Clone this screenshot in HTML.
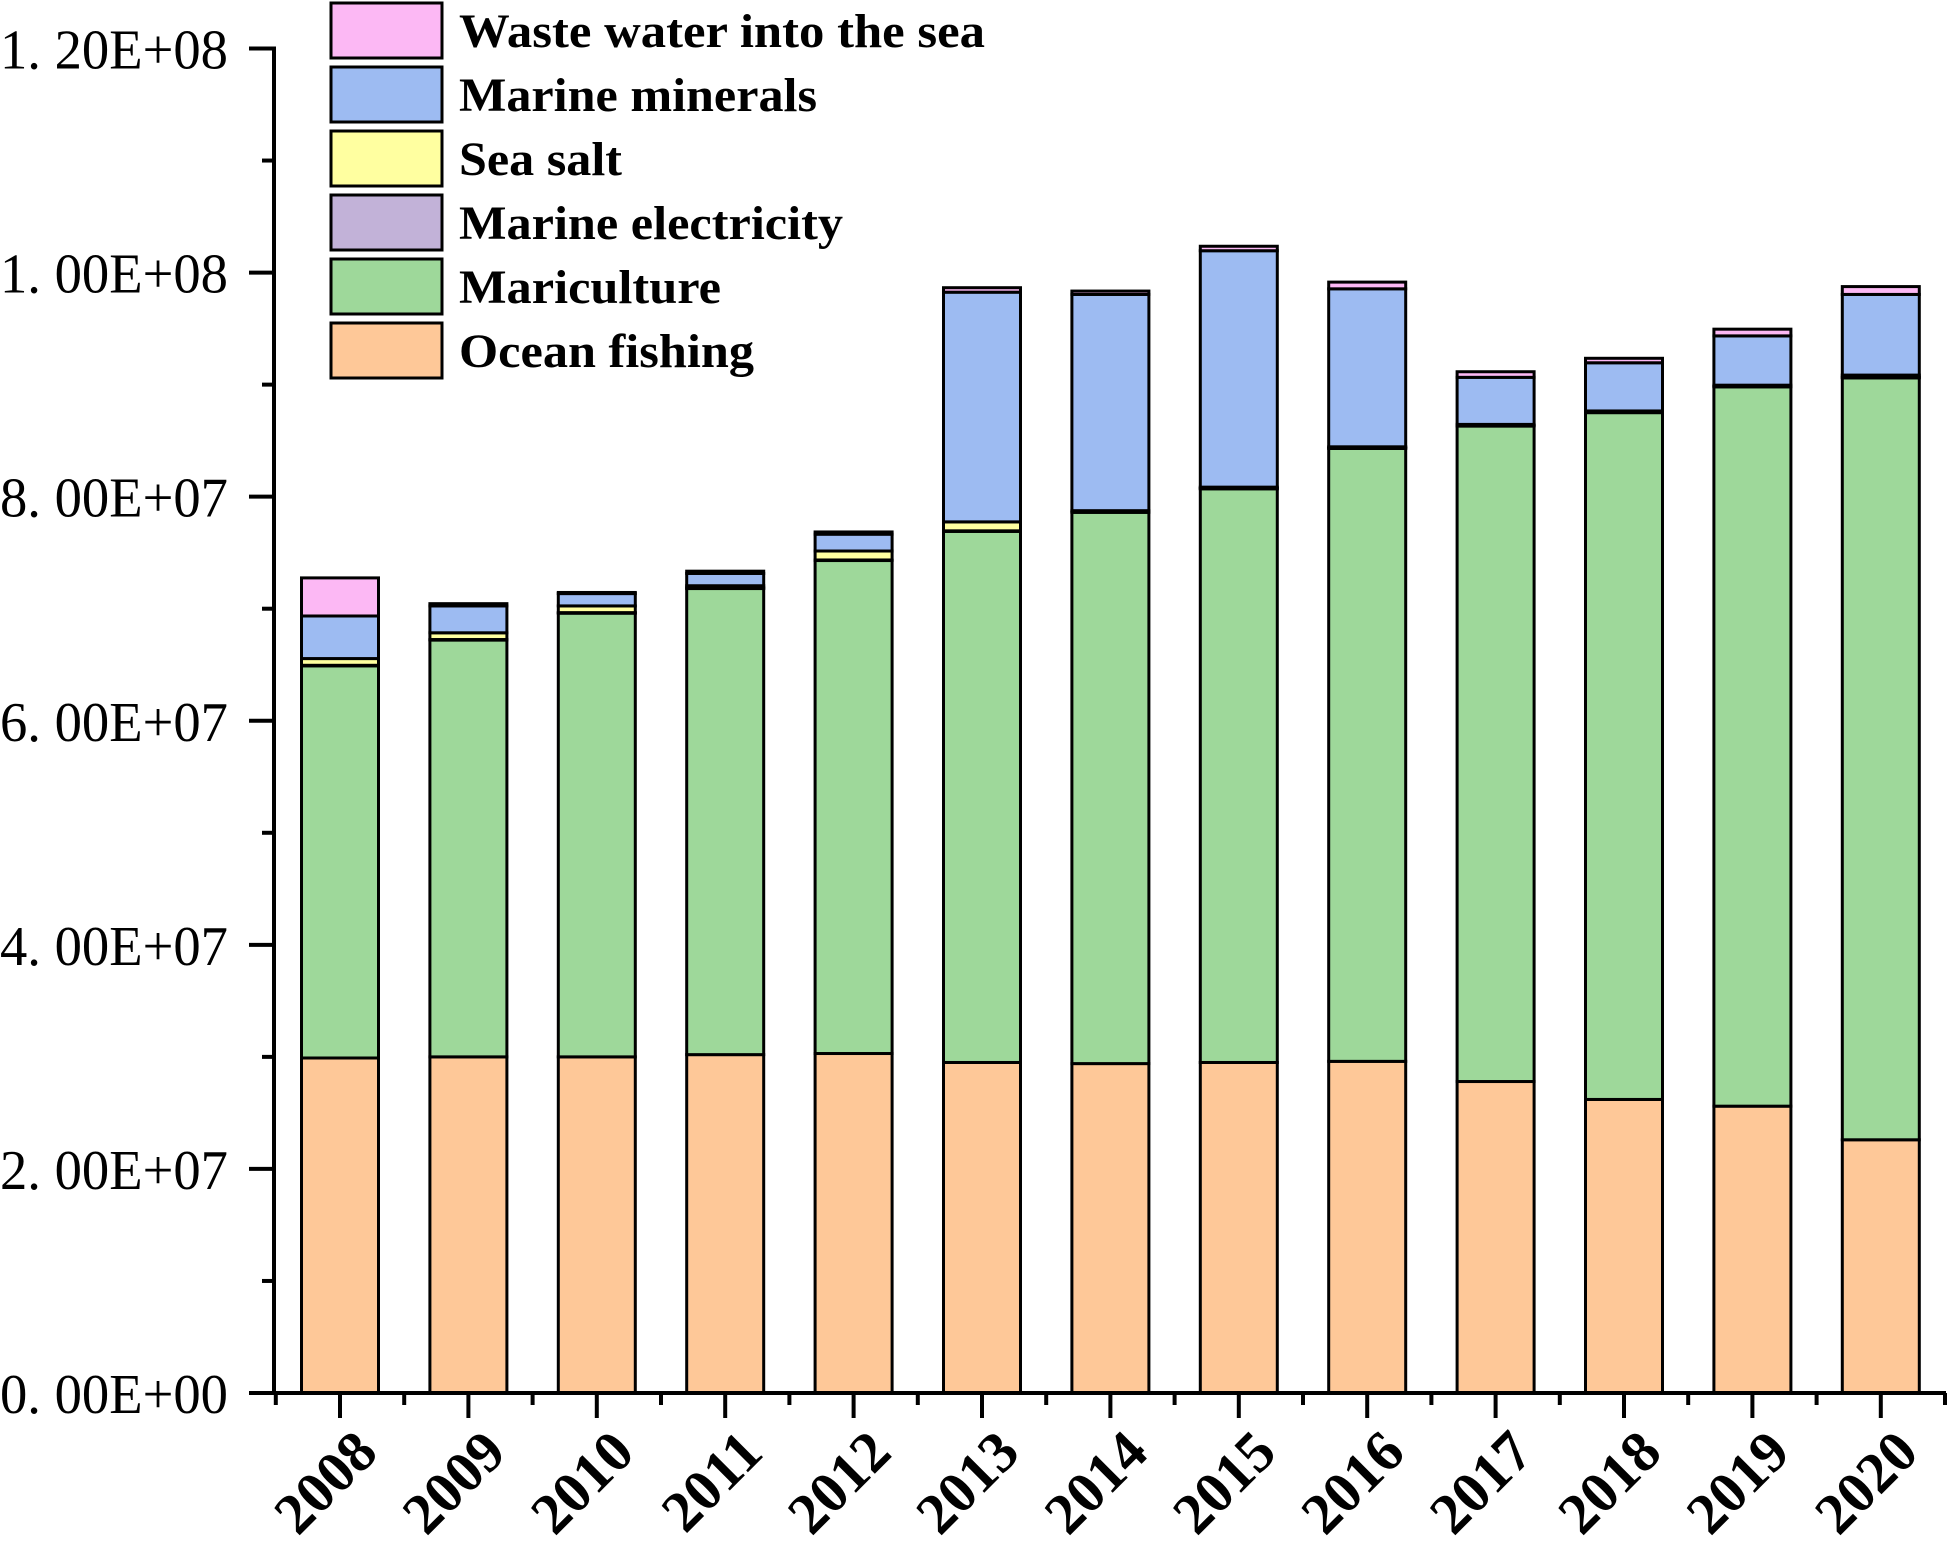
<!DOCTYPE html>
<html><head><meta charset="utf-8"><style>
html,body{margin:0;padding:0;background:#fff;}
svg{display:block;}
text{font-family:"Liberation Serif",serif;fill:#000;}
</style></head><body>
<svg id="chart" width="1949" height="1553" viewBox="0 0 1949 1553" xmlns="http://www.w3.org/2000/svg"></svg>
<script>
const years = ["2008","2009","2010","2011","2012","2013","2014","2015","2016","2017","2018","2019","2020"];
const oceanFishing = [29.9,30.0,30.0,30.2,30.3,29.5,29.4,29.5,29.6,27.8,26.2,25.6,22.6];
const mariculture = [35.0,37.2,39.6,41.6,44.0,47.4,49.2,51.2,54.7,58.5,61.3,64.2,68.0];
const marineElectricity = [0.05,0.05,0.05,0.05,0.05,0.05,0.05,0.05,0.05,0.05,0.05,0.05,0.05];
const seaSalt = [0.6,0.6,0.6,0.2,0.8,0.8,0.1,0.1,0.1,0.1,0.1,0.1,0.2];
const marineMinerals = [3.8,2.4,1.1,1.1,1.5,20.5,19.3,21.1,14.1,4.2,4.3,4.4,7.2];
const wasteWater = [3.4,0.2,0.1,0.2,0.2,0.4,0.3,0.4,0.6,0.5,0.4,0.6,0.7];
const yTicks = [0,20,40,60,80,100,120];
const yTickLabels = ["0. 00E+00","2. 00E+07","4. 00E+07","6. 00E+07","8. 00E+07","1. 00E+08","1. 20E+08"];
const seriesNames = ["Waste water into the sea","Marine minerals","Sea salt","Marine electricity","Mariculture","Ocean fishing"];

const NS="http://www.w3.org/2000/svg";
const svg=document.getElementById('chart');
function el(t,a,p){const e=document.createElementNS(NS,t);for(const k in a)e.setAttribute(k,a[k]);(p||svg).appendChild(e);return e;}
const X0=274, Y0=1393, YTOP=48.5, PITCH=128.4, FIRST=340, BW=77;
const y=v=>Y0-(v/120)*(Y0-YTOP);
const xc=i=>FIRST+i*PITCH;
const series=[
 {name:"ocean-fishing",vals:oceanFishing,color:"#FEC898"},
 {name:"mariculture",vals:mariculture,color:"#9ED89A"},
 {name:"marine-electricity",vals:marineElectricity,color:"#C2B2D8"},
 {name:"sea-salt",vals:seaSalt,color:"#FFFFA0"},
 {name:"marine-minerals",vals:marineMinerals,color:"#9DBBF2"},
 {name:"waste-water",vals:wasteWater,color:"#FCB8F4"}
];
const gb=el('g',{});


years.forEach((yr,i)=>{
 let base=0;
 series.forEach(s=>{
  const v=s.vals[i];
  const r=el('rect',{x:xc(i)-BW/2,y:y(base+v),width:BW,height:y(base)-y(base+v),fill:s.color,stroke:'#000','stroke-width':3},gb);
  
  
  base+=v;
 });
});
const ax=el('g',{stroke:'#000','stroke-width':4});


el('line',{x1:X0,y1:YTOP-2,x2:X0,y2:Y0+2},ax);
el('line',{x1:X0-2,y1:Y0,x2:1946,y2:Y0},ax);
for(let v=0;v<=120;v+=10){
 const major=v%20===0;
 el('line',{x1:major?X0-25:X0-12,y1:y(v),x2:X0,y2:y(v)},ax);
}
yTicks.forEach((v,i)=>{
 const t=el('text',{x:0,y:y(v)+20,'font-size':56,textLength:228,lengthAdjust:'spacingAndGlyphs'});
 t.textContent=yTickLabels[i];
 
 
});
years.forEach((yr,i)=>{
 el('line',{x1:xc(i),y1:Y0,x2:xc(i),y2:Y0+25},ax);
 el('line',{x1:xc(i)-PITCH/2,y1:Y0,x2:xc(i)-PITCH/2,y2:Y0+12},ax);
 const t=el('text',{x:0,y:0,'font-size':58,'font-weight':'bold','text-anchor':'end',transform:`translate(${xc(i)+40},${Y0+62}) rotate(-45)`});
 t.textContent=yr;
 
 
});
el('line',{x1:xc(12)+PITCH/2,y1:Y0,x2:xc(12)+PITCH/2,y2:Y0+12},ax);
const lg=el('g',{});


const legColors=["#FCB8F4","#9DBBF2","#FFFFA0","#C2B2D8","#9ED89A","#FEC898"];
const legWidths=[526,358,163,384,262,295];
seriesNames.forEach((n,i)=>{
 const yy=3+i*64;
 const g=el('g',{},lg);
 
 
 el('rect',{x:331,y:yy,width:111,height:55,fill:legColors[i],stroke:'#000','stroke-width':3},g);
 const t=el('text',{x:459,y:yy+44,'font-size':48,'font-weight':'bold',textLength:legWidths[i],lengthAdjust:'spacingAndGlyphs'},g);
 t.textContent=n;
});
</script>
</body></html>
